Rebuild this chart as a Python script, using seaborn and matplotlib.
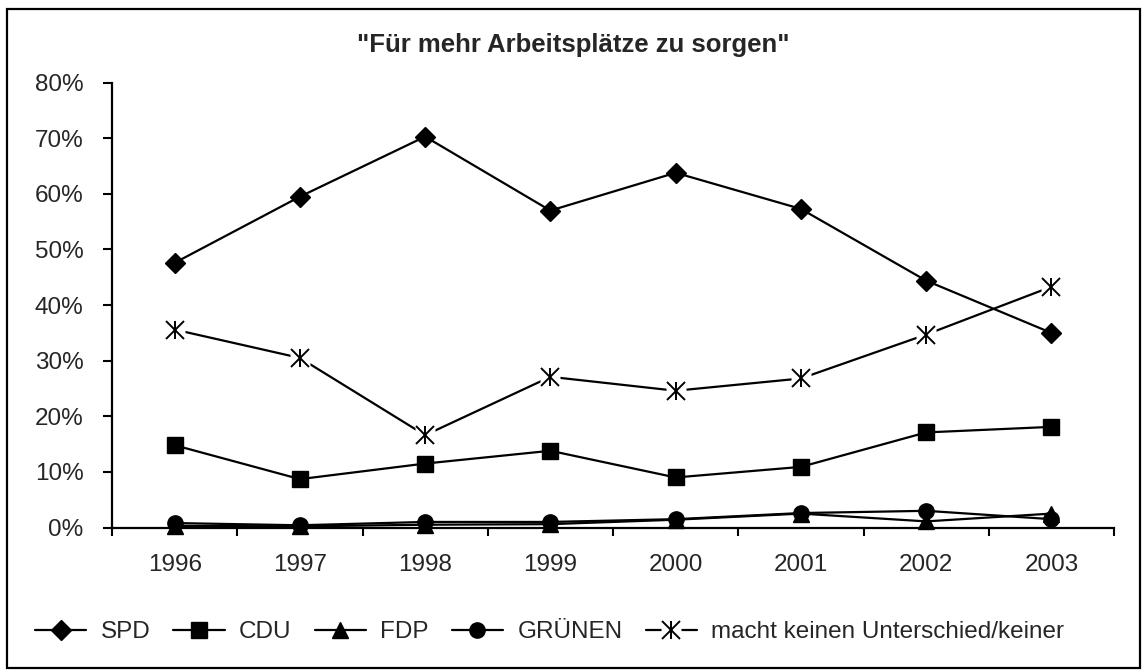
import matplotlib
matplotlib.use("Agg")
import matplotlib.pyplot as plt
import seaborn as sns
import pandas as pd
import numpy as np
from matplotlib.ticker import PercentFormatter, FixedLocator
from matplotlib.lines import Line2D
from matplotlib.patches import Rectangle

years = ["1996", "1997", "1998", "1999", "2000", "2001", "2002", "2003"]
spd = [47.6, 59.5, 70.3, 57.0, 63.8, 57.3, 44.4, 35.0]
cdu = [14.8, 8.7, 11.5, 13.8, 9.0, 10.9, 17.1, 18.1]
fdp = [0.3, 0.2, 0.5, 0.6, 1.4, 2.5, 1.1, 2.5]
gruenen = [0.8, 0.4, 1.0, 1.0, 1.5, 2.6, 3.0, 1.5]
keiner = [35.6, 30.5, 16.6, 27.1, 24.6, 26.8, 34.7, 43.3]

series_names = ["SPD", "CDU", "FDP", "GRÜNEN", "macht keinen Unterschied/keiner"]
series_values = [spd, cdu, fdp, gruenen, keiner]
title = "\"Für mehr Arbeitsplätze zu sorgen\""

sns.set_theme(style="white")
plt.rcParams["font.family"] = ["Liberation Sans", "DejaVu Sans"]

fig = plt.figure(figsize=(11.47, 6.70), dpi=100)
ax = fig.add_axes([112/1147, 1-527.5/670, (1114-112)/1147, (527.5-82.7)/670])

df = pd.DataFrame({
    "x": np.tile(np.arange(len(years)), len(series_names)),
    "value": np.concatenate([np.array(v) / 100 for v in series_values]),
    "series": np.repeat(series_names, len(years)),
})

KEY = "macht keinen Unterschied/keiner"
markers = {"SPD": "D", "CDU": "s", "FDP": "^", "GRÜNEN": "o"}
msizes = {"SPD": 10, "CDU": 12, "FDP": 12, "GRÜNEN": 11}
LW = 1.6

for name in series_names:
    sub = df[df.series == name]
    sns.lineplot(data=sub, x="x", y="value", ax=ax, color="black",
                 linewidth=LW, legend=False, zorder=2)
    if name == KEY:
        ax.plot(sub.x, sub.value, linestyle="none", marker="s", markersize=14,
                markerfacecolor="white", markeredgecolor="none", zorder=3, clip_on=False)
        for m in ["x", "|"]:
            ax.plot(sub.x, sub.value, linestyle="none", marker=m, markersize=13,
                    markeredgecolor="black", markeredgewidth=1.4, zorder=4, clip_on=False)
    else:
        ax.plot(sub.x, sub.value, linestyle="none", marker=markers[name],
                markersize=msizes[name], color="black", zorder=4, clip_on=False)

ax.set_xlim(-0.5, len(years) - 0.5)
ax.set_ylim(0, 0.8)
ax.set_yticks(np.arange(0, 0.81, 0.1))
ax.yaxis.set_major_formatter(PercentFormatter(1.0, decimals=0))
ax.set_xticks(np.arange(len(years)))
ax.set_xticklabels(years)
ax.xaxis.set_minor_locator(FixedLocator(np.arange(-0.5, len(years), 1.0)))
ax.tick_params(axis="x", which="major", length=0, pad=19, labelsize=17.5)
ax.tick_params(axis="x", which="minor", length=6, width=1.5, direction="out", bottom=True, color="black")
ax.tick_params(axis="y", which="major", length=6.5, width=1.5, direction="out", left=True,
               labelsize=17.5, pad=14, color="black")
ax.set_xlabel("")
ax.set_ylabel("")
for s in ["top", "right"]:
    ax.spines[s].set_visible(False)
for s in ["left", "bottom"]:
    ax.spines[s].set_color("black")
    ax.spines[s].set_linewidth(LW)
ax.spines["bottom"].set_zorder(5)

fig.text(0.5, 1 - 45/670, title, ha="center", va="center", fontsize=18.5, fontweight="bold")

handles = []
for name in series_names:
    if name == KEY:
        h = (Line2D([], [], color="black", linewidth=LW),
             Line2D([], [], linestyle="none", marker="s", markersize=14,
                    markerfacecolor="white", markeredgecolor="none"),
             Line2D([], [], linestyle="none", marker="x", markersize=13,
                    markeredgecolor="black", markeredgewidth=1.4),
             Line2D([], [], linestyle="none", marker="|", markersize=13,
                    markeredgecolor="black", markeredgewidth=1.4))
    else:
        h = Line2D([], [], color="black", linewidth=LW, marker=markers[name],
                   markersize=msizes[name])
    handles.append(h)
leg = fig.legend(handles, series_names, loc="center left", bbox_to_anchor=(35/1147, 1 - 632/670),
                 ncol=5, frameon=False, fontsize=17.5, handlelength=2.1, handletextpad=0.6,
                 columnspacing=0.95, borderaxespad=0, borderpad=0)

fig.patches.append(Rectangle((7/1147, 2/670), (1140-7)/1147, (661-2)/670, transform=fig.transFigure,
                             fill=False, edgecolor="black", linewidth=1.6))

fig.savefig("out.png", dpi=100, facecolor="white")
